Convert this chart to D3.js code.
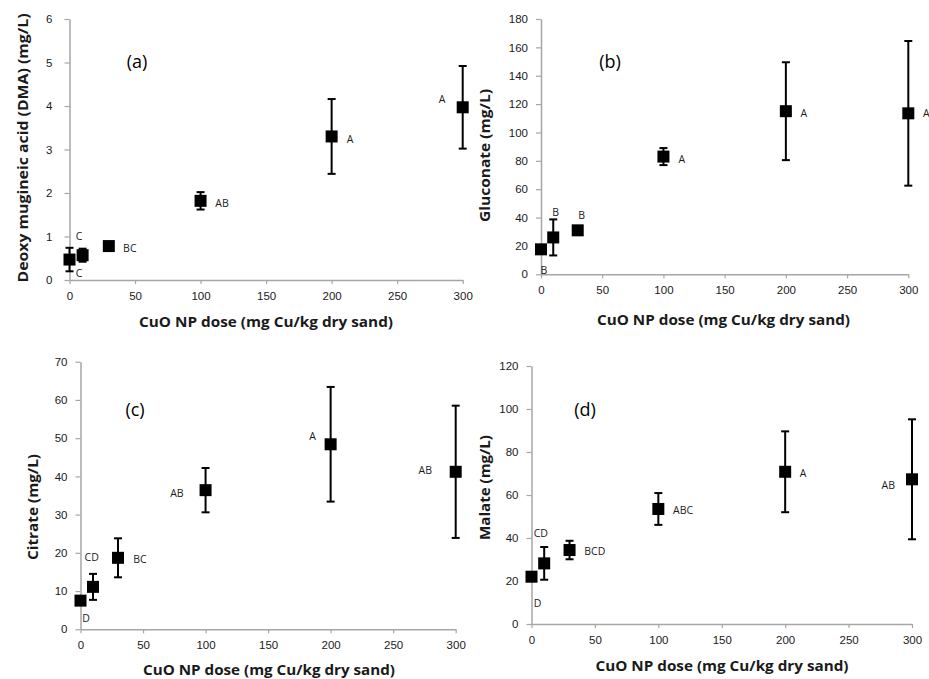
<!DOCTYPE html>
<html>
<head>
<meta charset="utf-8">
<script src="https://cdn.jsdelivr.net/npm/d3@7"></script>
<style>
  html, body { margin: 0; padding: 0; background: #fff; }
  svg { display: block; font-family: "Open Sans", "DejaVu Sans", sans-serif; }
</style>
</head>
<body>
<svg id="chart" width="929" height="679"></svg>
<script>
// ---------- DATA ----------
const doses = [0, 10, 30, 100, 200, 300];
const xTicks = [0, 50, 100, 150, 200, 250, 300];

const dmaMean = [0.47, 0.57, 0.78, 1.82, 3.30, 3.97];
const dmaErr  = [0.27, 0.15, 0.05, 0.20, 0.86, 0.95];
const dmaLetters = ["C", "C", "BC", "AB", "A", "A"];
const dmaTicks = [0, 1, 2, 3, 4, 5, 6];

const glucMean = [17.6, 26.0, 31.0, 83.0, 115.0, 113.5];
const glucErr  = [2, 12.7, 2, 6, 34.5, 51];
const glucLetters = ["B", "B", "B", "A", "A", "A"];
const glucTicks = [0, 20, 40, 60, 80, 100, 120, 140, 160, 180];

const citMean = [7.5, 11.1, 18.7, 36.4, 48.4, 41.2];
const citErr  = [1, 3.4, 5.1, 5.8, 15.0, 17.3];
const citLetters = ["D", "CD", "BC", "AB", "A", "AB"];
const citTicks = [0, 10, 20, 30, 40, 50, 60, 70];

const malMean = [22.0, 28.2, 34.4, 53.5, 70.8, 67.3];
const malErr  = [1.5, 7.6, 4.3, 7.4, 18.8, 27.9];
const malLetters = ["D", "CD", "BCD", "ABC", "A", "AB"];
const malTicks = [0, 20, 40, 60, 80, 100, 120];

const xTitle = "CuO NP dose (mg Cu/kg dry sand)";

// ---------- LAYOUT (pixels) ----------
const panels = [
  { tag: "(a)", yTitle: "Deoxy mugineic acid (DMA) (mg/L)", mean: dmaMean, err: dmaErr, letters: dmaLetters, ticks: dmaTicks,
    left: 69.5, right: 462.7, top: 19, bottom: 280, yPad: 12,
    tagPos: [137, 62], xTitlePos: [266, 326.5], xTitleLen: 254, yTitlePos: [23, 148], yTitleLen: 269,
    labelOff: [[9.5, 14], [-3.6, -19], [21, 2], [21.5, 2], [18.5, 3], [-20.7, -8]] },
  { tag: "(b)", yTitle: "Gluconate (mg/L)", mean: glucMean, err: glucErr, letters: glucLetters, ticks: glucTicks,
    left: 541, right: 908.3, top: 19, bottom: 274.3, yPad: 8,
    tagPos: [610, 62], xTitlePos: [723.5, 325], xTitleLen: 253, yTitlePos: [485, 155.5], yTitleLen: 133,
    labelOff: [[3, 20.7], [2.5, -25], [4, -15], [18.3, 3], [18, 2], [18, 0]] },
  { tag: "(c)", yTitle: "Citrate (mg/L)", mean: citMean, err: citErr, letters: citLetters, ticks: citTicks,
    left: 80.5, right: 455.7, top: 361.7, bottom: 629.3, yPad: 8,
    tagPos: [135, 410], xTitlePos: [269, 675], xTitleLen: 252, yTitlePos: [33.3, 507], yTitleLen: 106,
    labelOff: [[5.5, 17.6], [-1.3, -30], [22, 1.3], [-28.6, 2.7], [-18, -8.3], [-30.4, -1.7]] },
  { tag: "(d)", yTitle: "Malate (mg/L)", mean: malMean, err: malErr, letters: malLetters, ticks: malTicks,
    left: 531.5, right: 912, top: 366, bottom: 624, yPad: 8,
    tagPos: [585, 410], xTitlePos: [722, 670.5], xTitleLen: 253, yTitlePos: [485, 487.5], yTitleLen: 105,
    labelOff: [[6, 26.6], [-3.4, -30], [25.3, 1], [24.8, 1.3], [18, 1.6], [-23.7, 5.7]] }
];

const svg = d3.select("#chart");
const defs = svg.append("defs");
defs.append("filter").attr("id", "soft").attr("x", "-30%").attr("y", "-30%").attr("width", "160%").attr("height", "160%")
  .append("feGaussianBlur").attr("stdDeviation", 0.6);

const axisColor = "#a6a6a6";
const textColor = "#1a1a1a";

panels.forEach((p) => {
  const x = d3.scaleLinear().domain([0, 300]).range([p.left, p.right]);
  const yMax = p.ticks[p.ticks.length - 1];
  const y = d3.scaleLinear().domain([0, yMax]).range([p.bottom, p.top]);
  const g = svg.append("g");

  const gx = g.append("g").attr("transform", `translate(0,${p.bottom})`)
    .call(d3.axisBottom(x).tickValues(xTicks).tickSize(4).tickSizeOuter(0).tickPadding(8).tickFormat(d3.format("d")));
  const gy = g.append("g").attr("transform", `translate(${p.left},0)`)
    .call(d3.axisLeft(y).tickValues(p.ticks).tickSize(5).tickSizeOuter(0).tickPadding(p.yPad).tickFormat(d3.format("d")));
  [gx, gy].forEach(a => {
    a.select(".domain").attr("stroke", axisColor).attr("stroke-width", 1.5);
    a.selectAll(".tick line").attr("stroke", axisColor).attr("stroke-width", 1.2);
    a.selectAll(".tick text").attr("fill", textColor).style("font-size", "11.5px");
  });

  g.append("text").attr("x", p.xTitlePos[0]).attr("y", p.xTitlePos[1])
    .attr("text-anchor", "middle").attr("fill", textColor)
    .style("font-size", "15px").style("font-weight", "bold")
    .attr("textLength", p.xTitleLen).attr("lengthAdjust", "spacingAndGlyphs")
    .text(xTitle);
  g.append("text")
    .attr("transform", `translate(${p.yTitlePos[0] + 5},${p.yTitlePos[1]}) rotate(-90)`)
    .attr("text-anchor", "middle").attr("fill", textColor)
    .style("font-size", "15px").style("font-weight", "bold")
    .attr("textLength", p.yTitleLen).attr("lengthAdjust", "spacingAndGlyphs")
    .text(p.yTitle);

  g.append("text").attr("x", p.tagPos[0]).attr("y", p.tagPos[1]).attr("dy", "0.35em")
    .attr("text-anchor", "middle").attr("fill", "#000").style("font-size", "18px")
    .text(p.tag);

  const data = doses.map((d, i) => ({ dose: d, mean: p.mean[i], err: p.err[i], letter: p.letters[i], i }));

  const eb = g.append("g").attr("stroke", "#000").attr("stroke-width", 2);
  data.forEach(d => {
    const cx = x(d.dose), y1 = y(d.mean + d.err), y0 = y(Math.max(0, d.mean - d.err));
    eb.append("line").attr("x1", cx).attr("x2", cx).attr("y1", y1).attr("y2", y0);
    eb.append("line").attr("x1", cx - 4).attr("x2", cx + 4).attr("y1", y1).attr("y2", y1);
    eb.append("line").attr("x1", cx - 4).attr("x2", cx + 4).attr("y1", y0).attr("y2", y0);
  });

  g.append("g").selectAll("rect").data(data).join("rect")
    .attr("x", d => x(d.dose) - 6).attr("y", d => y(d.mean) - 6)
    .attr("width", 12).attr("height", 12).attr("fill", "#000")
    .attr("filter", "url(#soft)");

  const lab = g.append("g").style("font-size", "10.5px").attr("fill", textColor).attr("text-anchor", "middle");
  data.forEach(d => {
    const o = p.labelOff[d.i];
    lab.append("text").attr("x", x(d.dose) + o[0]).attr("y", y(d.mean) + o[1]).attr("dy", "0.35em").text(d.letter);
  });
});
</script>
</body>
</html>
